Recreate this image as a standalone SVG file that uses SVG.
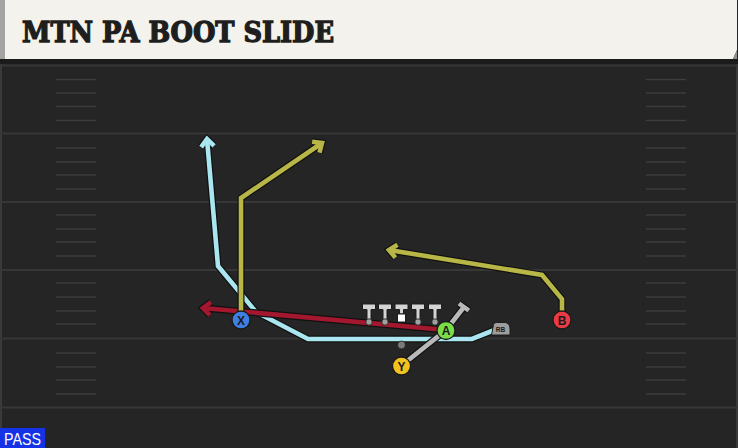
<svg xmlns="http://www.w3.org/2000/svg" width="738" height="448" viewBox="0 0 738 448">
<style>
.yd{stroke:#373737;stroke-width:2.2;fill:none}
.hm{stroke:#3c3c3c;stroke-width:1.6;fill:none}
.o{fill:none;stroke:#111;stroke-width:7;stroke-linejoin:miter;stroke-linecap:butt}
.r{fill:none;stroke-width:4.6;stroke-linejoin:miter;stroke-linecap:butt}
.pc{stroke:#1a1a1a;stroke-width:1.3}
.lbl{font-family:"Liberation Sans",Arial,sans-serif;font-weight:bold;font-size:12px;fill:#1a1a1a;text-anchor:middle}
.ol{fill:#d4d4d4;stroke:#1c1c1c;stroke-width:1}
.dot{fill:#a0a0a0;stroke:#1c1c1c;stroke-width:0.8}
</style>
<defs>
<marker id="ak" markerUnits="userSpaceOnUse" viewBox="-12 -12 24 24" refX="0" refY="0" markerWidth="24" markerHeight="24" orient="auto" overflow="visible">
<path d="M-7.5,-6.5 L0,0 L-7.5,6.5" fill="none" stroke="#111" stroke-width="7" stroke-linejoin="miter"/>
</marker>
<marker id="ac" markerUnits="userSpaceOnUse" viewBox="-12 -12 24 24" refX="0" refY="0" markerWidth="24" markerHeight="24" orient="auto" overflow="visible">
<path d="M-7.5,-6.5 L0,0 L-7.5,6.5" fill="none" stroke="#a9e6ef" stroke-width="4.6" stroke-linejoin="miter"/>
</marker>
<marker id="ay" markerUnits="userSpaceOnUse" viewBox="-12 -12 24 24" refX="0" refY="0" markerWidth="24" markerHeight="24" orient="auto" overflow="visible">
<path d="M-7.5,-6.5 L0,0 L-7.5,6.5" fill="none" stroke="#b8b647" stroke-width="4.6" stroke-linejoin="miter"/>
</marker>
<marker id="ar" markerUnits="userSpaceOnUse" viewBox="-12 -12 24 24" refX="0" refY="0" markerWidth="24" markerHeight="24" orient="auto" overflow="visible">
<path d="M-7.5,-6.5 L0,0 L-7.5,6.5" fill="none" stroke="#a3172f" stroke-width="4.6" stroke-linejoin="miter"/>
</marker>
</defs>

<!-- field -->
<rect x="0" y="0" width="738" height="448" fill="#252525"/>
<rect x="0" y="64" width="2" height="384" fill="#3a3a3a"/>
<rect x="736" y="64" width="2" height="384" fill="#3a3a3a"/>
<g id="yardlines">
<path class="yd" d="M0,65.5H738M0,133.5H738M0,202H738M0,270H738M0,338.5H738M0,407.5H738"/>
</g>
<g id="hashes">
<path class="hm" d="M56,79.5H96M56,93H96M56,106.5H96M56,120.5H96
M56,148H96M56,162H96M56,175H96M56,189H96
M56,215H96M56,229H96M56,242H96M56,256H96
M56,283H96M56,297H96M56,311H96M56,324H96
M56,353H96M56,367H96M56,380H96M56,394H96
M646,79.5H686M646,93H686M646,106.5H686M646,120.5H686
M646,148H686M646,162H686M646,175H686M646,189H686
M646,215H686M646,229H686M646,242H686M646,256H686
M646,283H686M646,297H686M646,311H686M646,324H686
M646,353H686M646,367H686M646,380H686M646,394H686"/>
</g>

<!-- header -->
<g id="header">
<rect x="0" y="59" width="738" height="5" fill="#1b1b1b"/>
<rect x="0" y="0" width="5" height="59" fill="#a3a3a3"/>
<path d="M5,0H737V50L733,59H5Z" fill="#f4f2ec"/>
<path d="M737,50L733,59H737Z" fill="#8e9094"/>
<text x="22" y="42" font-family="'DejaVu Serif',serif" font-weight="bold" font-size="27" fill="#1e1e1e" stroke="#1e1e1e" stroke-width="1.3" textLength="312" lengthAdjust="spacingAndGlyphs">MTN PA BOOT SLIDE</text>
</g>

<!-- connectors -->
<g id="connectors">
<g id="route-rb">
<path class="o" d="M497,329L472,339L308,339L256,312L218,266L207,139" marker-end="url(#ak)"/>
<path class="r" stroke="#a9e6ef" d="M497,329L472,339L308,339L256,312L218,266L207,139" marker-end="url(#ac)"/>
</g>
<g id="route-a">
<path class="o" d="M446,330L203,308" marker-end="url(#ak)"/>
<path class="r" stroke="#a3172f" d="M446,330L203,308" marker-end="url(#ar)"/>
</g>
<g id="route-x">
<path class="o" d="M241,320L241,198L322,143" marker-end="url(#ak)"/>
<path class="r" stroke="#b8b647" d="M241,320L241,198L322,143" marker-end="url(#ay)"/>
</g>
<g id="route-b">
<path class="o" d="M562,319L562,299L542,275L389,250" marker-end="url(#ak)"/>
<path class="r" stroke="#b8b647" d="M562,319L562,299L542,275L389,250" marker-end="url(#ay)"/>
</g>
<g id="route-y">
<path class="o" d="M401,366L446,330L464,307M459,303.5L468.8,310.5"/>
<path class="r" stroke="#b9b9b9" d="M401,366L446,330L464,307M459,303.5L468.8,310.5"/>
</g>
</g>

<!-- offensive line -->
<g id="LT"><path class="ol" d="M362.5,304H375.5V309.5H371V321H367V309.5H362.5Z"/><circle class="dot" cx="369" cy="322" r="3.2"/></g>
<g id="LG"><path class="ol" d="M378.5,304H391.5V309.5H387V321H383V309.5H378.5Z"/><circle class="dot" cx="385" cy="322" r="3.2"/></g>
<g id="C"><path class="ol" d="M395,304H408V309.5H403.5V314H399.5V309.5H395Z"/><rect x="397.5" y="314" width="8" height="8" fill="#ffffff" stroke="#1c1c1c" stroke-width="1"/></g>
<g id="RG"><path class="ol" d="M411.5,304H424.5V309.5H420V321H416V309.5H411.5Z"/><circle class="dot" cx="418" cy="322" r="3.2"/></g>
<g id="RT"><path class="ol" d="M428.5,304H441.5V309.5H437V321H433V309.5H428.5Z"/><circle class="dot" cx="435" cy="322" r="3.2"/></g>
<g id="QB"><circle cx="401.5" cy="345" r="4" fill="#7a7a7a" stroke="#1c1c1c" stroke-width="0.8"/></g>

<!-- skill players -->
<g id="X"><circle class="pc" cx="241" cy="320" r="9" fill="#3f7fe2"/><text class="lbl" x="241" y="324.5">X</text></g>
<g id="A"><circle class="pc" cx="446" cy="330.5" r="9" fill="#79dd48"/><text class="lbl" x="446" y="335">A</text></g>
<g id="Y"><circle class="pc" cx="401.5" cy="366" r="9" fill="#f2c31f"/><text class="lbl" x="401.5" y="370.5">Y</text></g>
<g id="B"><circle class="pc" cx="562" cy="320" r="9" fill="#ec3a45"/><text class="lbl" x="562" y="324.5">B</text></g>
<g id="RB"><path d="M491.5,335L493.5,324.5Q494,322.5 496.5,322.5L505,322.5Q509.5,323 510,328L510,335Z" fill="#9d9d9d" stroke="#1c1c1c" stroke-width="1"/><text x="500.5" y="331.5" font-family="'Liberation Sans',Arial,sans-serif" font-weight="bold" font-size="6.5" fill="#1a1a1a" text-anchor="middle">RB</text></g>

<!-- play type -->
<g id="pass-tag">
<rect x="0" y="428" width="45" height="20" fill="#1632e6"/>
<text x="4" y="445" font-family="'Liberation Sans',Arial,sans-serif" font-size="16.5" fill="#ffffff" textLength="37" lengthAdjust="spacingAndGlyphs">PASS</text>
</g>
</svg>
